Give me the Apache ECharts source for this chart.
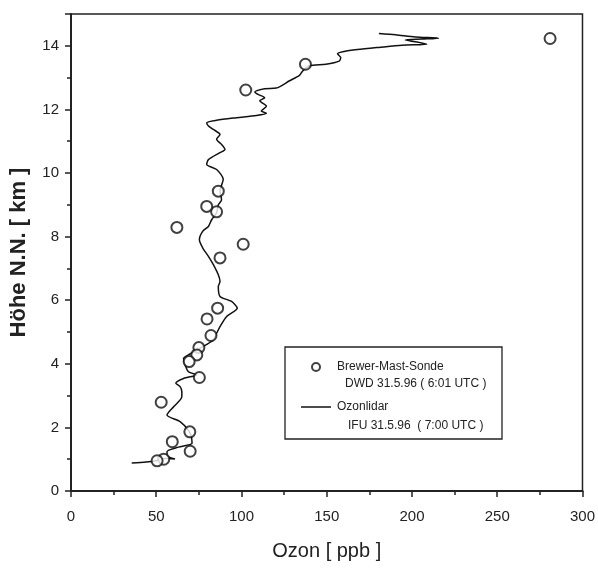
<!DOCTYPE html>
<html>
<head>
<meta charset="utf-8">
<script src="https://cdn.jsdelivr.net/npm/echarts@6/dist/echarts.min.js"></script>
<style>html,body{margin:0;padding:0;background:#fff}#c{width:598px;height:568px}</style>
</head>
<body>
<div id="c"></div>
<script>
// Brewer-Mast-Sonde (circles)
var sondeOzon  = [281, 137.5, 102.5, 86.4, 85.4, 79.6, 62.1, 101, 87.4, 86.0, 79.8, 82.1, 75.0, 73.8, 69.3, 75.3, 52.9, 69.7, 59.4, 69.9, 54.4, 50.5];
var sondeHoehe = [14.23, 13.42, 12.61, 9.43, 8.78, 8.95, 8.29, 7.76, 7.33, 5.75, 5.41, 4.89, 4.51, 4.28, 4.07, 3.57, 2.79, 1.86, 1.55, 1.25, 1.0, 0.95];
// Ozonlidar (line, in path order)
var lidarOzon  = [35.6, 44, 50.5, 55, 61, 56.5, 56.3, 63, 71, 70.5, 69, 64, 56.3, 60.2, 65, 65, 64, 61.5, 66, 73.8, 68.9, 67, 66, 68.9, 75.7, 83.5, 85.4, 87.4, 91.3, 97.5, 94.2, 87.4, 86.4, 87.4, 86.4, 83.5, 80.6, 77.3, 75.3, 77.3, 80.6, 82.5, 85.4, 86.4, 88.3, 87.4, 89.3, 85.4, 79.6, 80.6, 87.4, 90.3, 88.3, 85.4, 87.4, 83.5, 80.6, 79.6, 85.4, 97.1, 108.8, 114.6, 111.6, 114.6, 110.7, 113.6, 109.7, 107.8, 113.6, 120.4, 128.2, 134, 135.9, 139.8, 149.5, 157.3, 158.2, 156.3, 160.2, 168, 180.6, 194.2, 208.7, 202.9, 196.1, 205.8, 215.6, 201.9, 190.3, 180.6];
var lidarHoehe = [0.88, 0.91, 0.96, 1.02, 1.01, 1.1, 1.24, 1.38, 1.5, 1.72, 1.9, 2.18, 2.39, 2.65, 2.96, 3.12, 3.28, 3.39, 3.54, 3.65, 3.75, 3.96, 4.17, 4.28, 4.49, 4.75, 4.96, 5.17, 5.49, 5.75, 5.96, 6.12, 6.43, 6.59, 6.8, 7.12, 7.38, 7.64, 7.9, 8.17, 8.32, 8.53, 8.75, 9.0, 9.16, 9.44, 9.8, 10.11, 10.27, 10.42, 10.64, 10.74, 10.9, 11.06, 11.21, 11.37, 11.48, 11.58, 11.66, 11.74, 11.81, 11.88, 11.95, 12.1, 12.27, 12.37, 12.47, 12.55, 12.65, 12.67, 12.9, 13.07, 13.21, 13.37, 13.42, 13.52, 13.63, 13.75, 13.82, 13.88, 13.95, 14.02, 14.05, 14.12, 14.18, 14.21, 14.24, 14.28, 14.35, 14.39];
var seriesNames = ['Brewer-Mast-Sonde', 'Ozonlidar'];
var legendSub = ['DWD 31.5.96 ( 6:01 UTC )', 'IFU 31.5.96  ( 7:00 UTC )'];
var xTitle = 'Ozon [ ppb ]';
var yTitle = 'Höhe N.N. [ km ]';

var FONT = '"Liberation Sans Narrow", "Liberation Sans", Arial, sans-serif';
var chart = echarts.init(document.getElementById('c'));
function pairs(a, b) { return a.map(function (v, i) { return [v, b[i]]; }); }

chart.setOption({
  animation: false,
  backgroundColor: '#fff',
  grid: { left: 70, right: 13, top: 14, bottom: 77, show: true, borderColor: '#222', borderWidth: 1.5, backgroundColor: 'transparent' },
  xAxis: {
    type: 'value', min: 0, max: 300, interval: 50,
    name: xTitle, nameLocation: 'middle', nameGap: 50,
    nameTextStyle: { fontFamily: FONT, fontSize: 20, color: '#222' },
    axisLine: { show: true, lineStyle: { color: '#222', width: 2 } },
    axisTick: { show: true, inside: false, length: 6, lineStyle: { color: '#222', width: 1.5 } },
    minorTick: { show: true, splitNumber: 2, length: 4, lineStyle: { color: '#222', width: 1.5 } },
    axisLabel: { margin: 18, fontFamily: FONT, fontSize: 15, color: '#222' },
    splitLine: { show: false }
  },
  yAxis: {
    type: 'value', min: 0, max: 15, interval: 2,
    name: yTitle, nameLocation: 'middle', nameGap: 41, nameRotate: 90,
    nameTextStyle: { fontFamily: '"Liberation Sans", Arial, sans-serif', fontSize: 22, fontWeight: 'bold', color: '#222' },
    axisLine: { show: true, lineStyle: { color: '#222', width: 2 } },
    axisTick: { show: true, inside: false, length: 6, lineStyle: { color: '#222', width: 1.5 } },
    minorTick: { show: true, splitNumber: 2, length: 4, lineStyle: { color: '#222', width: 1.5 } },
    axisLabel: { margin: 12, fontFamily: FONT, fontSize: 15, color: '#222', showMaxLabel: false },
    splitLine: { show: false }
  },
  legend: {
    orient: 'vertical', left: 296, top: 356,
    itemWidth: 30, itemHeight: 8, itemGap: 28,
    textStyle: { fontFamily: FONT, fontSize: 12, color: '#222', padding: [0, 0, 0, 1] },
    data: [
      { name: seriesNames[0], icon: 'emptyCircle', itemStyle: { color: '#111', borderColor: '#111', borderWidth: 2 } },
      { name: seriesNames[1], icon: 'path://M0,0L30,0L30,1.5L0,1.5Z', itemStyle: { color: '#111' } }
    ]
  },
  graphic: [
    { type: 'rect', shape: { x: 285, y: 347, width: 217, height: 92 }, style: { fill: 'none', stroke: '#222', lineWidth: 1.3 }, z: 5 },
    { type: 'text', left: 345, top: 378, style: { text: legendSub[0], font: '12px ' + FONT, fill: '#222' }, z: 5 },
    { type: 'text', left: 348, top: 420, style: { text: legendSub[1], font: '12px ' + FONT, fill: '#222' }, z: 5 }
  ],
  series: [
    {
      name: seriesNames[0], type: 'scatter',
      data: pairs(sondeOzon, sondeHoehe),
      symbol: 'emptyCircle', symbolSize: 11,
      itemStyle: { color: '#111', borderColor: '#111', borderWidth: 1.8 },
      z: 3
    },
    {
      name: seriesNames[1], type: 'line',
      data: pairs(lidarOzon, lidarHoehe),
      symbol: 'none', showSymbol: false, smooth: 0.25,
      lineStyle: { color: '#111', width: 1.5 },
      itemStyle: { color: '#111' },
      z: 2
    }
  ]
});
</script>
</body>
</html>
